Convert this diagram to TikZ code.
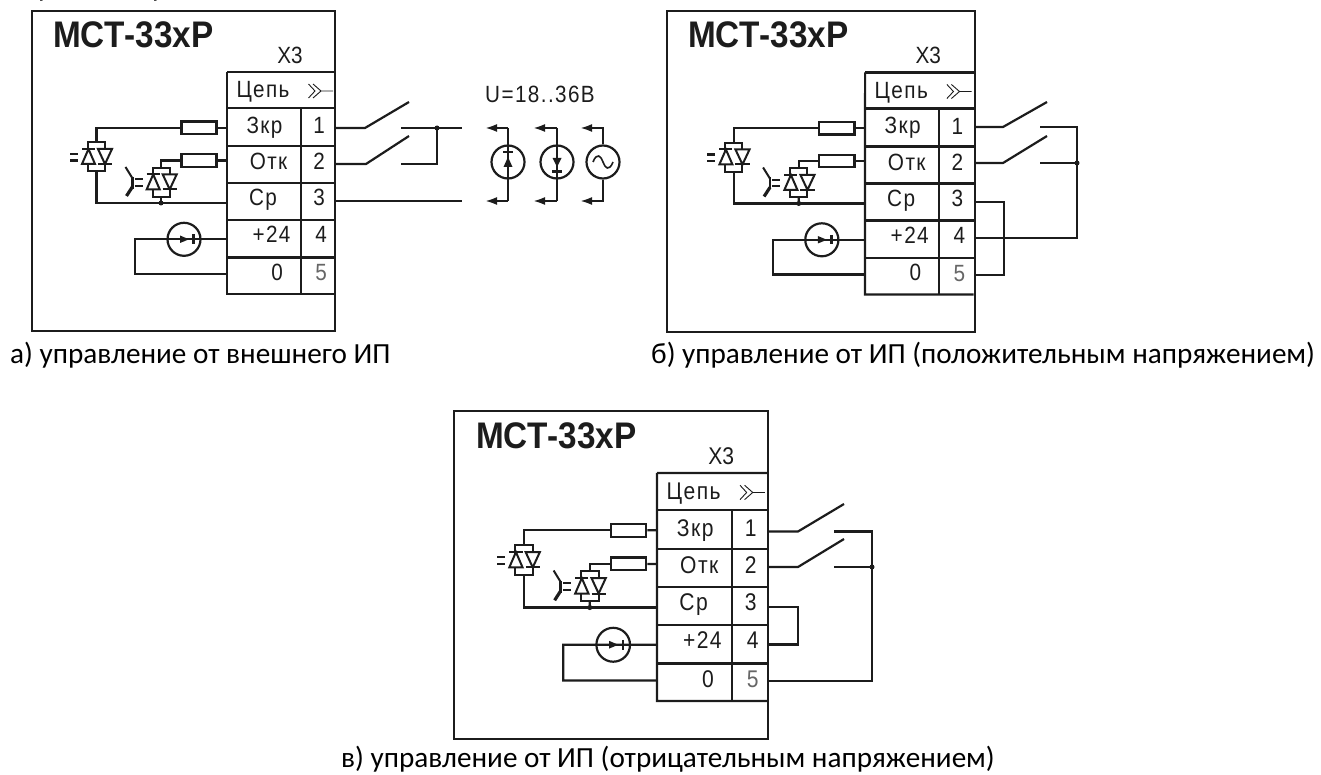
\documentclass[tikz,border=0pt]{standalone}
\usepackage{fontspec}
\setmainfont{Carlito}
\newfontfamily\arialf[FakeStretch=0.88]{Liberation Sans}
\newfontfamily\arialsp[LetterSpace=6,FakeStretch=0.88]{Liberation Sans}
\newfontfamily\titlef[FakeStretch=0.9,BoldFont={Liberation Sans Bold}]{Liberation Sans}
\usetikzlibrary{arrows.meta}
\definecolor{ink}{HTML}{1c1c1c}
\tikzset{
  wire/.style={draw=ink,line width=2.2pt},
  thinw/.style={draw=ink,line width=1.2pt},
  lbl/.style={inner sep=0pt,anchor=base,text=ink,font=\fontsize{23.5}{26}\selectfont\arialsp},
  resbox/.style={draw=ink,line width=2.2pt,minimum width=35pt,minimum height=12.5pt,inner sep=0pt,fill=white},
  srcc/.style={draw=ink,line width=2.2pt,circle,minimum size=33pt,inner sep=0pt},
  dotn/.style={circle,fill=ink,minimum size=5pt,inner sep=0pt},
  captxt/.style={inner sep=0pt,anchor=base west,text=black,font=\fontsize{29.2}{32}\selectfont},
  arrowln/.style={wire,-{Latex[length=12pt,width=8pt]}},
}
\newcommand{\triacsym}[2]{%
  \begin{scope}[shift={(#1,#2)}]
    \draw[wire,line width=2pt] (0,0)--(17,0)--(17,29)--(0,29)--cycle;
    \draw[wire,line width=2pt,fill=white] (-6,21.7)--(7,21.7)--(0.5,6.7)--cycle;
    \draw[wire,line width=2pt,fill=white] (10,6.7)--(24,6.7)--(17,21.7)--cycle;
    \draw[wire,line width=2pt] (-6,6.7)--(7,6.7) (10,21.7)--(24,21.7);
    \draw[wire,line width=2.2pt] (-18,11.7)--(-10,11.7) (-18,18.2)--(-10,18.2);
  \end{scope}}
\newcommand{\panelbody}[1]{%
  % table
  \coordinate (#1-tl) at (227,72);
  \coordinate (#1-br) at (335,294);
  \draw[wire] (#1-tl) -- (335,72);
  \draw[wire] (#1-tl) -- (227,294) -- (#1-br);
  \draw[wire] (227,108)--(335,108) (227,146)--(335,146) (227,183)--(335,183) (227,220)--(335,220) (227,257.5)--(335,257.5);
  \draw[wire] (301,108)--(301,294);
  \node[lbl] (#1-x3) at (290,63.5) {\arialf Х3};
  \node[lbl] (#1-hd) at (263,98) {Цепь};
  \node[lbl] (#1-n1) at (264.5,133.5) {Зкр};
  \node[lbl] (#1-n2) at (268.5,170) {Отк};
  \node[lbl] (#1-n3) at (263,206) {Ср};
  \node[lbl] (#1-n4) at (271.5,243) {+24};
  \node[lbl] (#1-n5) at (277,280.5) {0};
  \node[lbl] (#1-p1) at (319,134) {\arialf 1};
  \node[lbl] (#1-p2) at (319,170) {\arialf 2};
  \node[lbl] (#1-p3) at (319,206) {\arialf 3};
  \node[lbl] (#1-p4) at (321,243) {\arialf 4};
  \node[lbl,text=black!60] (#1-p5) at (321,281) {\arialf 5};
  % connector symbol
  \draw[thinw,line width=0.9pt] (308.5,84)--(315,91)--(308.5,98) (313,84)--(321,91)--(313,98) (321,91)--(333,91);
  % resistors
  \node[resbox] (#1-r1) at (199,127.8) {};
  \node[resbox] (#1-r2) at (199,160.6) {};
  \draw[wire] (#1-r1.east) -- (227,127.8);
  \draw[wire] (#1-r2.east) -- (227,160.6);
  % optotriacs
  \coordinate (#1-ta) at (96.5,142.3);
  \coordinate (#1-tb) at (161,167.7);
  \coordinate (#1-j) at (161,203);
  \draw[wire] (#1-ta) |- (#1-r1.west);
  \draw[wire] (#1-tb) |- (#1-r2.west);
  \draw[wire] (96.5,171.3) -- (96.5,203) -- (227,203);
  \draw[wire] (161,196.7) -- (#1-j);
  \node[dotn] (#1-jd) at (#1-j) {};
  \triacsym{88}{142.3}
  \triacsym{152.7}{167.7}
  % phototransistor
  \draw[wire,line width=2pt] (125.5,167)--(132.3,178);
  \draw[wire,line width=2.8pt] (132.3,177)--(132.3,189);
  \draw[wire,line width=3.2pt] (132.3,187)--(126.5,196);
  % current source
  \node[srcc] (#1-cs) at (184,239.3) {};
  \coordinate (#1-lc) at (135,239.3);
  \coordinate (#1-ld) at (135,274);
  \draw[wire] (227,239.3) -- (#1-lc) -- (#1-ld) -- (227,274);
  \fill[ink] (180,235.5)--(189,239.3)--(180,243)--cycle;
  \draw[wire] (193.5,234.5)--(193.5,244);
}
\newcommand{\titlenode}[3]{\node[inner sep=0pt,anchor=base west,text=ink,font=\fontsize{37}{40}\selectfont\bfseries\titlef] (#1) at (#2,#3) {МСТ-33хР};}
\begin{document}
\begin{tikzpicture}[x=1pt,y=-1pt]
\useasboundingbox (0,0) rectangle (1321,775);
% cut-off line at the very top
\node[captxt] (topa) at (38,-3) {р};
\node[captxt] (topb) at (143,-3) {(р};
\node[captxt] (topc) at (222,-3) {)};
%%% panel a
\draw[wire] (32,11) rectangle (335,331);
\titlenode{ta}{53}{47.5}
\panelbody{a}
\coordinate (a-s1) at (365,128);
\coordinate (a-b1) at (409,102);
\coordinate (a-s2) at (366,164);
\coordinate (a-b2) at (409,136);
\coordinate (a-c1) at (401,128);
\coordinate (a-c2) at (401,164);
\coordinate (a-j) at (437,128);
\coordinate (a-e1) at (462,128);
\coordinate (a-e3) at (462,201);
\draw[wire] (335,128) -- (a-s1) -- (a-b1);
\draw[wire] (335,164) -- (a-s2) -- (a-b2);
\draw[wire] (a-c1) -- (a-e1);
\draw[wire] (a-j) |- (a-c2);
\draw[wire] (335,201) -- (a-e3);
\node[dotn] (a-jd) at (a-j) {};
\node[lbl] (u) at (540,103) {U=18..36В};
% sources
\node[srcc] (s1) at (508,162) {};
\node[srcc] (s2) at (557,162) {};
\node[srcc] (s3) at (603,162) {};
\coordinate (s1t) at (485,128); \coordinate (s1b) at (485,201);
\coordinate (s2t) at (533,128); \coordinate (s2b) at (533,201);
\coordinate (s3t) at (580,128); \coordinate (s3b) at (580,201);
\draw[wire] (508,128) -- (508,201);
\draw[wire] (557,128) -- (557,201);
\draw[arrowln] (508,128) -- (s1t);
\draw[arrowln] (508,201) -- (s1b);
\draw[arrowln] (557,128) -- (s2t);
\draw[arrowln] (557,201) -- (s2b);
\draw[arrowln] (s3.north) |- (s3t);
\draw[arrowln] (s3.south) |- (s3b);
\draw[wire] (503,152)--(513,152);
\fill[ink] (508,157)--(512.5,167)--(503.5,167)--cycle;
\fill[ink] (552.5,158)--(561.5,158)--(557,167)--cycle;
\draw[wire] (552,171.5)--(562,171.5);
\draw[wire,line width=1.6pt] (593,162) .. controls (597,152) and (601,156) .. (603,162) .. controls (605,168) and (609,172) .. (613,162);
\node[captxt] (capa) at (10,363) {а) управление от внешнего ИП};
%%% panel b
\draw[wire] (667,11) rectangle (975,332);
\titlenode{tb}{688}{47.5}
\begin{scope}[shift={(637,0.5)},xscale=1.0046,transform shape]
\panelbody{b}
\end{scope}
\coordinate (b-s1) at (1003,127);
\coordinate (b-b1) at (1047,102);
\coordinate (b-s2) at (1003,163);
\coordinate (b-b2) at (1047,136);
\coordinate (b-c1) at (1040,127);
\coordinate (b-c2) at (1040,163);
\coordinate (b-k1) at (1077,127);
\coordinate (b-k2) at (1077,163);
\coordinate (b-k4) at (1077,238);
\coordinate (b-m3) at (1004,202);
\coordinate (b-m5) at (1004,275);
\draw[wire] (974,127) -- (b-s1) -- (b-b1);
\draw[wire] (974,163) -- (b-s2) -- (b-b2);
\draw[wire] (b-c1) -- (b-k1) -- (b-k4) -- (974,238);
\draw[wire] (b-c2) -- (b-k2);
\node[dotn] (b-jd) at (b-k2) {};
\draw[wire] (974,202) -- (b-m3) -- (b-m5) -- (974,275);
\node[captxt] (capb) at (651,363) {б) управление от ИП (положительным напряжением)};
%%% panel c
\draw[wire] (454,411) rectangle (768,739);
\titlenode{tc}{476}{448}
\begin{scope}[shift={(425.8,399)},xscale=1.0185,yscale=1.027,transform shape]
\panelbody{c}
\end{scope}
\coordinate (c-s1) at (798,531.5);
\coordinate (c-b1) at (844,504);
\coordinate (c-s2) at (798,567);
\coordinate (c-b2) at (844,539);
\coordinate (c-c1) at (834,531.5);
\coordinate (c-c2) at (834,567);
\coordinate (c-k1) at (872,531.5);
\coordinate (c-k2) at (872,567);
\coordinate (c-k5) at (872,681);
\coordinate (c-m3) at (798,607);
\coordinate (c-m4) at (798,644.5);
\draw[wire] (767,531.5) -- (c-s1) -- (c-b1);
\draw[wire] (767,567) -- (c-s2) -- (c-b2);
\draw[wire] (c-c1) -- (c-k1) -- (c-k5) -- (767,681);
\draw[wire] (c-c2) -- (c-k2);
\node[dotn] (c-jd) at (c-k2) {};
\draw[wire] (767,607) -- (c-m3) -- (c-m4) -- (767,644.5);
\node[captxt] (capc) at (341,767) {в) управление от ИП (отрицательным напряжением)};
\end{tikzpicture}
\end{document}
